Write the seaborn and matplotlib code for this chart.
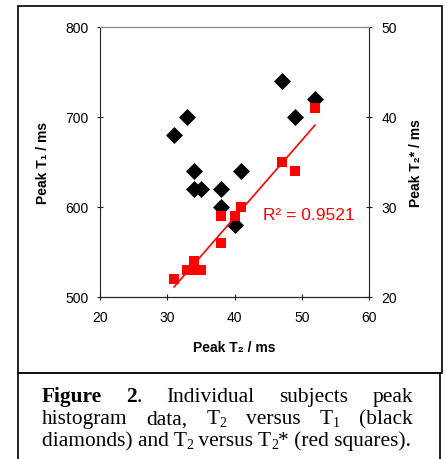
import numpy as np
import pandas as pd
import matplotlib
matplotlib.use("Agg")
import matplotlib.pyplot as plt
import seaborn as sns
from matplotlib.patches import Rectangle

# ---- data ----
t2_for_t1 = [31, 33, 34, 34, 35, 38, 38, 40, 41, 47, 49, 52]
t1_values = [680, 700, 640, 620, 620, 620, 600, 580, 640, 740, 700, 720]
t2_for_t2s = [31, 33, 34, 34, 35, 38, 38, 40, 41, 47, 49, 52]
t2s_values = [22, 23, 24, 23, 23, 26, 29, 29, 30, 35, 34, 41]
x_ticks = [20, 30, 40, 50, 60]
t1_ticks = [500, 600, 700, 800]
t2s_ticks = [20, 30, 40, 50]
r2_label = "R\u00b2 = 0.9521"

sns.set_style("ticks")
plt.rcParams["font.family"] = ["Liberation Sans", "DejaVu Sans"]

W, H = 447, 460
fig = plt.figure(figsize=(W / 100, H / 100), dpi=100)
ax = fig.add_axes([100 / W, 1 - 298 / H, 269 / W, 270 / H])

df1 = pd.DataFrame({"T2": t2_for_t1, "T1": t1_values})
df2 = pd.DataFrame({"T2": t2_for_t2s, "T2s": t2s_values})

sns.scatterplot(data=df1, x="T2", y="T1", marker="D", s=75, color="black",
                linewidth=0, ax=ax, zorder=3, legend=False)
ax2 = ax.twinx()
sns.regplot(data=df2, x="T2", y="T2s", scatter=False, ci=None, color="#ff0000",
            line_kws={"lw": 1.2}, ax=ax2, truncate=True)
sns.scatterplot(data=df2, x="T2", y="T2s", marker="s", s=50, color="#ff0000",
                linewidth=0, ax=ax2, zorder=3, legend=False)

ax.set_xlim(20, 60)
ax.set_ylim(500, 800)
ax2.set_ylim(20, 50)
ax.set_xticks(x_ticks)
ax.set_yticks(t1_ticks)
ax2.set_yticks(t2s_ticks)

lab_kw = dict(fontsize=10, fontweight="bold", color="black")
ax.set_xlabel("Peak T\u2082 / ms", **lab_kw)
ax.set_ylabel("Peak T\u2081 / ms", **lab_kw)
ax2.set_ylabel("Peak T\u2082* / ms", **lab_kw)
ax.xaxis.set_label_coords(0.5, (298 - 348) / 270)
ax.xaxis.label.set_va("center")
ax.yaxis.set_label_coords((43 - 100) / 269, 0.5)
ax.yaxis.label.set_va("center")
ax2.yaxis.set_label_coords((416 - 100) / 269, 0.5)
ax2.yaxis.label.set_va("center")

for a in (ax, ax2):
    a.tick_params(direction="inout", length=5, width=0.8, labelsize=10,
                  colors="#222222", labelcolor="black")
    for s in a.spines.values():
        s.set_linewidth(0.8)
        s.set_color("#222222")
    a.spines["top"].set_color("#8a8a8a")
ax.tick_params(axis="x", pad=7)
ax.tick_params(axis="y", pad=6)
ax2.tick_params(axis="y", pad=6.5)
ax2.spines["left"].set_visible(False)
ax.spines["right"].set_visible(False)

ax2.text(44.25, 29.2, r2_label, color="#ff0000", fontsize=12.5,
         va="center", ha="left")

# ---- frames ----
fig.add_artist(Rectangle((18 / W, 1 - 374 / H), 424 / W, 367 / H,
                         transform=fig.transFigure, fill=False, lw=1.3,
                         ec="#111111"))
fig.add_artist(Rectangle((18 / W, -0.05), 422 / W, (1 - 374 / H) + 0.05,
                         transform=fig.transFigure, fill=False, lw=1.3,
                         ec="#111111", clip_on=False))

# ---- caption (justified) ----
renderer = fig.canvas.get_renderer()
cap_kw = dict(family=["Liberation Serif", "DejaVu Serif"], color="black")
CAP_SIZE, SUB_SIZE, SUB_DY = 15.4, 10.0, 3.0


def make_word(pieces, y):
    objs = []
    for txt, style in pieces:
        kw = dict(cap_kw)
        kw["fontsize"] = CAP_SIZE
        dy = 0
        if style == "bold":
            kw["fontweight"] = "bold"
        if style == "sub":
            kw["fontsize"] = SUB_SIZE
            dy = SUB_DY
        t = fig.text(0, 1 - (y + dy) / H, txt, ha="left", va="baseline", **kw)
        objs.append((t, y + dy))
    widths = [o[0].get_window_extent(renderer).width for o in objs]
    return objs, widths


def place_word(objs, widths, x):
    cx = x
    for (t, yy), w in zip(objs, widths):
        t.set_position((cx / W, 1 - yy / H))
        cx += w


def justified(words, y, x0, x1):
    made = [make_word(w, y) for w in words]
    total = sum(sum(m[1]) for m in made)
    gap = (x1 - x0 - total) / (len(made) - 1)
    cx = x0
    for objs, widths in made:
        place_word(objs, widths, cx)
        cx += sum(widths) + gap


line1 = [[("Figure", "bold")], [("2", "bold"), (".", "normal")],
         [("Individual", "normal")], [("subjects", "normal")], [("peak", "normal")]]
line2 = [[("histogram", "normal")], [("data,", "normal")],
         [("T", "normal"), ("2", "sub")], [("versus", "normal")],
         [("T", "normal"), ("1", "sub")], [("(black", "normal")]]
line3 = [("diamonds) and T", "normal"), ("2", "sub"), (" versus T", "normal"),
         ("2", "sub"), ("* (red squares).", "normal")]

justified(line1, 402, 41.5, 413)
justified(line2, 424.5, 41.5, 413)
o3, w3 = make_word(line3, 446.5)
place_word(o3, w3, 41.5)

fig.savefig("out.png", dpi=100)
